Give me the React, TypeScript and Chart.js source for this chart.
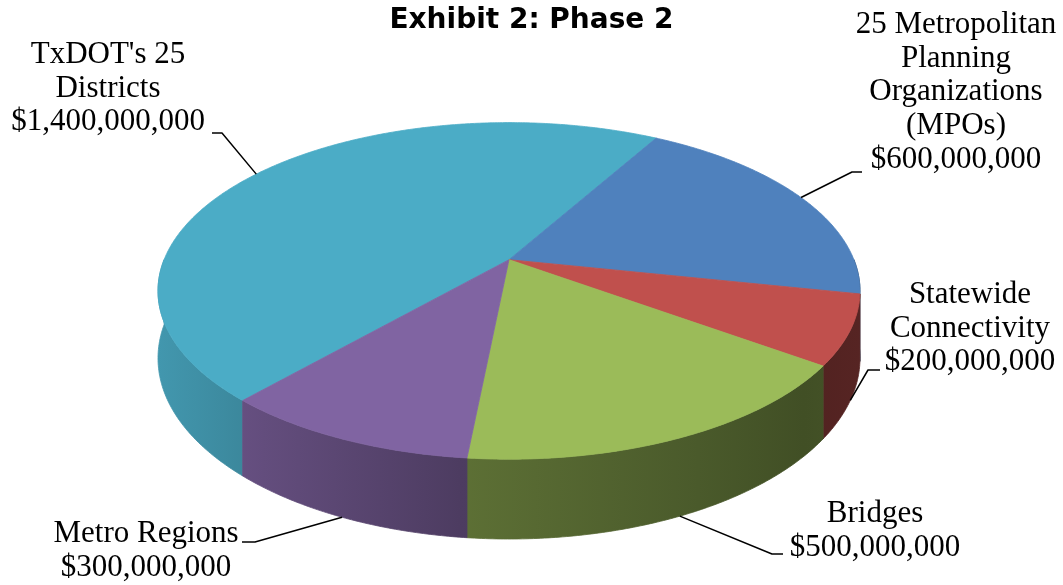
import React, { useEffect, useRef } from 'react';
import { Chart, registerables } from 'chart.js';

Chart.register(...registerables);

// ---- data ----
const categories = [
  "TxDOT's 25 Districts",
  '25 Metropolitan Planning Organizations (MPOs)',
  'Statewide Connectivity',
  'Bridges',
  'Metro Regions',
];
const values = [1400000000, 600000000, 200000000, 500000000, 300000000];
const nameLines = [
  ["TxDOT's 25", 'Districts'],
  ['25 Metropolitan', 'Planning', 'Organizations', '(MPOs)'],
  ['Statewide', 'Connectivity'],
  ['Bridges'],
  ['Metro Regions'],
];
const sliceColors = ['#4BACC6', '#4F81BD', '#C0504D', '#9BBB59', '#8064A2'];
const titleText = 'Exhibit 2: Phase 2';

// ---- layout (label placement, not data) ----
const LABEL_LAYOUT = [
  { cx: 108, y0: 63, elbow: [222, 133], stub: [212, 133] },
  { cx: 956, y0: 33, elbow: [852, 172], stub: [862, 172] },
  { cx: 970, y0: 303, elbow: [868, 370], stub: [880, 370] },
  { cx: 875, y0: 522, elbow: [772, 554], stub: [783, 554] },
  { cx: 146, y0: 542, elbow: [255, 542], stub: [242, 542] },
];
const PIE_INSET = { left: 158, right: 203 };
const LINE_H = 33.7;
const LABEL_FONT = '31px "Liberation Serif"';
const PERSP_D = 5.39;
const WALL_RATIO = 0.4;

function fmt(v: number) {
  return '$' + v.toLocaleString('en-US');
}

function shade(hex: string, f: number) {
  const n = parseInt(hex.slice(1), 16);
  const r = Math.round(((n >> 16) & 255) * f);
  const g = Math.round(((n >> 8) & 255) * f);
  const b = Math.round((n & 255) * f);
  return `rgb(${r},${g},${b})`;
}

function geometry(area: any) {
  const D = PERSP_D;
  const sm = 1 / D;
  const wf = (Math.sqrt(1 - sm * sm) * D) / (D - sm);
  const left = area.left + PIE_INSET.left;
  const right = area.right - PIE_INSET.right;
  const rx = (right - left) / 2 / wf;
  const cx = (left + right) / 2;
  const kTop = D / (D + 1);
  const kBot = D / (D - 1);
  const ry = (area.bottom - area.top) / (kTop + kBot * (1 + WALL_RATIO));
  const cy = area.top + ry * kTop;
  return { D, wf, rx, ry, cx, cy, h: ry * WALL_RATIO };
}

function proj(g: any, a: number, down = 0): [number, number] {
  const X = Math.cos(a);
  const Z = Math.sin(a);
  const s = g.D / (g.D - Z);
  return [g.cx + g.rx * X * s, g.cy + g.ry * Z * s + g.h * s * down];
}

function visibleRanges(s: number, e: number) {
  const TWO = Math.PI * 2;
  const a = ((s % TWO) + TWO) % TWO;
  const b = a + (e - s);
  const out: [number, number][] = [];
  for (const off of [0, TWO]) {
    const lo = Math.max(a, off);
    const hi = Math.min(b, off + Math.PI);
    if (hi > lo) out.push([lo - off, hi - off]);
  }
  return out;
}

const pie3d = {
  id: 'pie3d',
  beforeDatasetsDraw(chart: any) {
    const ctx = chart.ctx as CanvasRenderingContext2D;
    const meta = chart.getDatasetMeta(0);
    const g = geometry(chart.chartArea);
    const step = Math.PI / 360;

    // walls
    const walls: { i: number; lo: number; hi: number; z: number }[] = [];
    meta.data.forEach((arc: any, i: number) => {
      const { startAngle, endAngle } = arc.getProps(['startAngle', 'endAngle'], true);
      visibleRanges(startAngle, endAngle).forEach(([lo, hi]) => {
        walls.push({ i, lo, hi, z: Math.min(Math.sin(lo), Math.sin(hi)) });
      });
    });
    walls.sort((p, q) => p.z - q.z);
    const gx0 = g.cx - g.rx * g.wf;
    const gx1 = g.cx + g.rx * g.wf;
    walls.forEach(({ i, lo, hi }) => {
      const col = sliceColors[i];
      const grad = ctx.createLinearGradient(gx0, 0, gx1, 0);
      grad.addColorStop(0, shade(col, 0.88));
      grad.addColorStop(0.15, shade(col, 0.77));
      grad.addColorStop(0.43, shade(col, 0.6));
      grad.addColorStop(0.77, shade(col, 0.48));
      grad.addColorStop(0.92, shade(col, 0.42));
      grad.addColorStop(1, shade(col, 0.45));
      const n = Math.max(2, Math.ceil((hi - lo) / step));
      ctx.beginPath();
      for (let k = 0; k <= n; k++) {
        const [x, y] = proj(g, lo + ((hi - lo) * k) / n, 0);
        if (k === 0) ctx.moveTo(x, y);
        else ctx.lineTo(x, y);
      }
      for (let k = n; k >= 0; k--) {
        const [x, y] = proj(g, lo + ((hi - lo) * k) / n, 1);
        ctx.lineTo(x, y);
      }
      ctx.closePath();
      ctx.fillStyle = grad;
      ctx.fill();
      ctx.strokeStyle = grad;
      ctx.lineWidth = 0.8;
      ctx.stroke();
    });

    // top faces
    meta.data.forEach((arc: any, i: number) => {
      const { startAngle, endAngle } = arc.getProps(['startAngle', 'endAngle'], true);
      const n = Math.max(2, Math.ceil((endAngle - startAngle) / step));
      ctx.beginPath();
      ctx.moveTo(g.cx, g.cy);
      for (let k = 0; k <= n; k++) {
        const [x, y] = proj(g, startAngle + ((endAngle - startAngle) * k) / n, 0);
        ctx.lineTo(x, y);
      }
      ctx.closePath();
      ctx.fillStyle = sliceColors[i];
      ctx.fill();
      ctx.strokeStyle = sliceColors[i];
      ctx.lineWidth = 0.8;
      ctx.lineJoin = 'round';
      ctx.stroke();
    });

    // labels + leaders
    ctx.save();
    ctx.strokeStyle = '#000';
    ctx.lineWidth = 1.5;
    ctx.fillStyle = '#000';
    ctx.font = LABEL_FONT;
    ctx.textAlign = 'center';
    ctx.textBaseline = 'alphabetic';
    meta.data.forEach((arc: any, i: number) => {
      const { startAngle, endAngle } = arc.getProps(['startAngle', 'endAngle'], true);
      const mid = (startAngle + endAngle) / 2;
      const front = Math.sin(mid) > 0;
      const anchor = proj(g, mid, front ? 1 : 0);
      const L = LABEL_LAYOUT[i];
      ctx.beginPath();
      ctx.moveTo(anchor[0], anchor[1]);
      ctx.lineTo(L.elbow[0], L.elbow[1]);
      ctx.lineTo(L.stub[0], L.stub[1]);
      ctx.stroke();
      const lines = [...nameLines[i], fmt(values[i])];
      lines.forEach((t, k) => ctx.fillText(t, L.cx, L.y0 + k * LINE_H));
    });
    ctx.restore();
    return false;
  },
};

export default function App() {
  const ref = useRef<HTMLCanvasElement | null>(null);
  useEffect(() => {
    if (!ref.current) return;
    const chart = new Chart(ref.current, {
      type: 'pie',
      data: {
        labels: categories,
        datasets: [{ data: values, backgroundColor: sliceColors, borderWidth: 0 }],
      },
      options: {
        animation: false,
        responsive: true,
        maintainAspectRatio: false,
        rotation: -138.3,
        events: [],
        layout: { padding: { left: 0, right: 0, top: 0, bottom: 46 } },
        plugins: {
          legend: { display: false },
          tooltip: { enabled: false },
          title: {
            display: true,
            text: titleText,
            color: '#000',
            font: { family: '"DejaVu Sans"', size: 28, weight: 'bold' },
            padding: { top: 4, bottom: 85 },
          },
        },
      },
      plugins: [pie3d],
    });
    return () => chart.destroy();
  }, []);
  return (
    <div style={{ position: 'fixed', left: 0, top: 0, width: 1063, height: 585, background: '#fff' }}>
      <canvas ref={ref} style={{ display: 'block' }} />
    </div>
  );
}
